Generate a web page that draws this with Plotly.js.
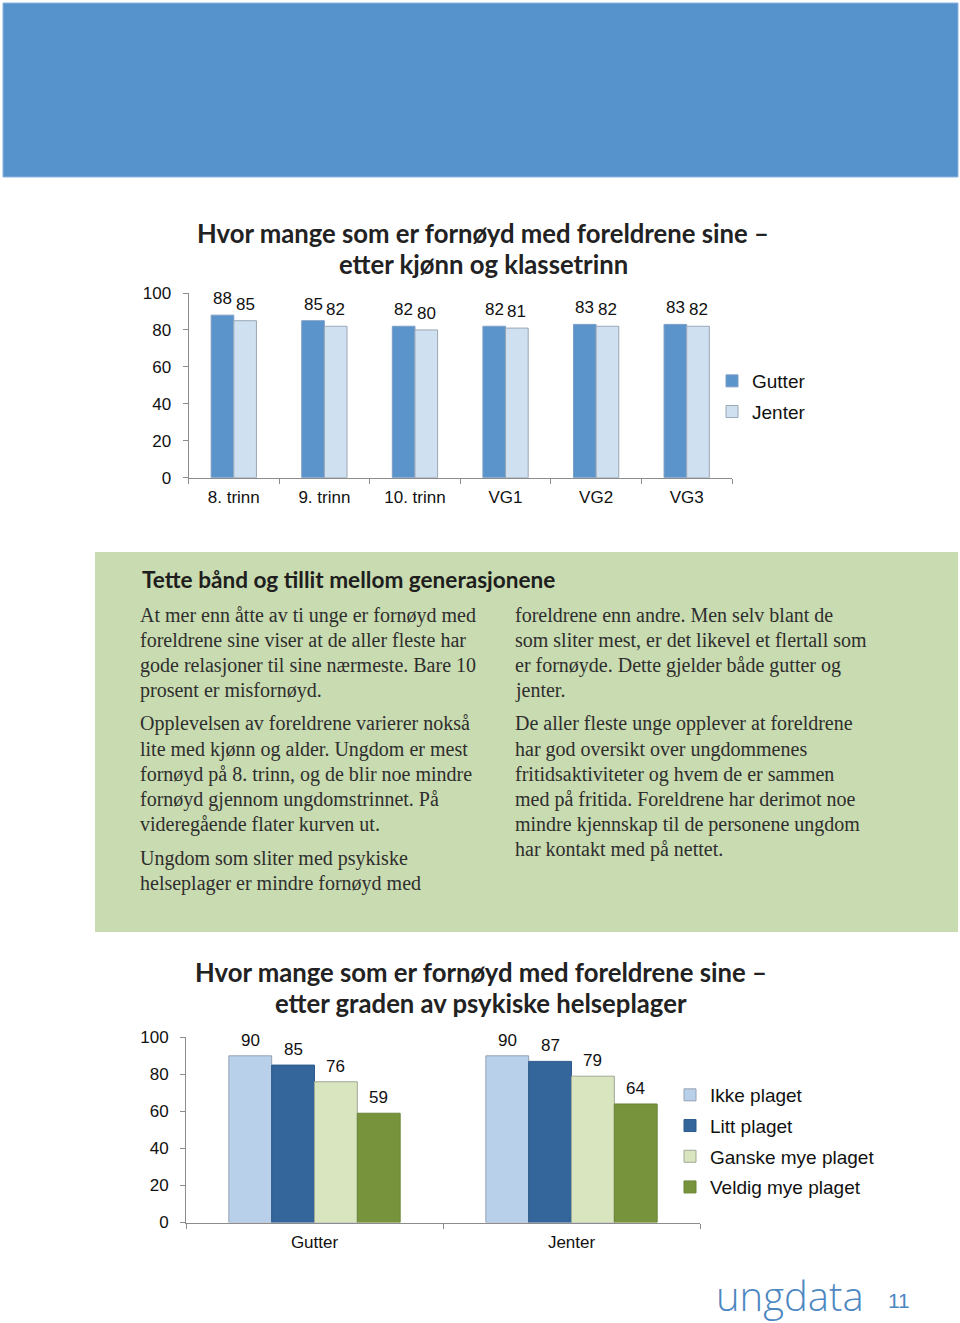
<!DOCTYPE html>
<html>
<head>
<meta charset="utf-8">
<script src="https://cdn.plot.ly/plotly-3.0.1.min.js"></script>
<style>
html,body{margin:0;padding:0;background:#fff;}
#page{width:960px;height:1323px;}
</style>
</head>
<body>
<div id="page"></div>
<script>
// ---------- DATA ----------
const grades = ["8. trinn", "9. trinn", "10. trinn", "VG1", "VG2", "VG3"];
const gutterByGrade = [88, 85, 82, 82, 83, 83];
const jenterByGrade = [85, 82, 80, 81, 82, 82];

const genders = ["Gutter", "Jenter"];
const healthGroups = ["Ikke plaget", "Litt plaget", "Ganske mye plaget", "Veldig mye plaget"];
const ikkePlaget = [90, 90];
const littPlaget = [85, 87];
const ganskeMyePlaget = [76, 79];
const veldigMyePlaget = [59, 64];

const yTicks1 = [0, 20, 40, 60, 80, 100];
const yTicks2 = [0, 20, 40, 60, 80, 100];

const title1 = ["Hvor mange som er fornøyd med foreldrene sine –", "etter kjønn og klassetrinn"];
const title2 = ["Hvor mange som er fornøyd med foreldrene sine –", "etter graden av psykiske helseplager"];
const boxHeading = "Tette bånd og tillit mellom generasjonene";
const leftParas = [
  ["At mer enn åtte av ti unge er fornøyd med",
   "foreldrene sine viser at de aller fleste har",
   "gode relasjoner til sine nærmeste. Bare 10",
   "prosent er misfornøyd."],
  ["Opplevelsen av foreldrene varierer nokså",
   "lite med kjønn og alder. Ungdom er mest",
   "fornøyd på 8. trinn, og de blir noe mindre",
   "fornøyd gjennom ungdomstrinnet. På",
   "videregående flater kurven ut."],
  ["Ungdom som sliter med psykiske",
   "helseplager er mindre fornøyd med"]
];
const rightParas = [
  ["foreldrene enn andre. Men selv blant de",
   "som sliter mest, er det likevel et flertall som",
   "er fornøyde. Dette gjelder både gutter og",
   "jenter."],
  ["De aller fleste unge opplever at foreldrene",
   "har god oversikt over ungdommenes",
   "fritidsaktiviteter og hvem de er sammen",
   "med på fritida. Foreldrene har derimot noe",
   "mindre kjennskap til de personene ungdom",
   "har kontakt med på nettet."]
];
const logoText = "ungdata";
const pageNumber = "11";

// ---------- HELPERS ----------
const W = 960, H = 1323;
const X = p => p / W;
const Y = p => 1 - p / H;
const SANS = "Liberation Sans, Arial, sans-serif";
const HEAD = "Lato, Open Sans, sans-serif";
const SERIF = "Liberation Serif, DejaVu Serif, serif";

function barTrace(x, y, name, fill, line, xa, ya, legend, width, offset, group) {
  return {
    type: "bar", x: x, y: y, name: name, xaxis: xa, yaxis: ya, legend: legend,
    legendgroup: group,
    width: width, offset: offset,
    marker: {color: fill, line: {color: line, width: 1}},
    hoverinfo: "skip"
  };
}

const traces = [
  barTrace(grades, gutterByGrade, "Gutter", "#5b93cb", "#7d9ec4", "x", "y", "legend", 0.25, -0.25, "g1"),
  barTrace(grades, jenterByGrade, "Jenter", "#cfe0f1", "#9aa6b4", "x", "y", "legend", 0.25, 0, "g2"),
  barTrace(genders, ikkePlaget, healthGroups[0], "#b8d0ea", "#95a3b3", "x2", "y2", "legend2", 1/6, -1/3, "h1"),
  barTrace(genders, littPlaget, healthGroups[1], "#35669b", "#2d5a8a", "x2", "y2", "legend2", 1/6, -1/6, "h2"),
  barTrace(genders, ganskeMyePlaget, healthGroups[2], "#d8e5be", "#a0a896", "x2", "y2", "legend2", 1/6, 0, "h3"),
  barTrace(genders, veldigMyePlaget, healthGroups[3], "#77933c", "#6b8535", "x2", "y2", "legend2", 1/6, 1/6, "h4")
];

function xAxis(domain, anchor) {
  return {
    domain: domain, anchor: anchor, type: "category", tickson: "boundaries",
    ticks: "outside", ticklen: 5, tickcolor: "#8c8c8c", showline: true, linecolor: "#8c8c8c",
    linewidth: 1, showgrid: false, zeroline: false, fixedrange: true, ticklabelstandoff: 4,
    tickfont: {family: SANS, size: 17, color: "#111"}
  };
}
function yAxis(domain, anchor, tv) {
  return {
    domain: domain, anchor: anchor, range: [0, 100], tickvals: tv, ticktext: tv.map(String),
    ticks: "outside", ticklen: 5, tickcolor: "#8c8c8c", showline: true, linecolor: "#8c8c8c",
    linewidth: 1, showgrid: false, zeroline: false, fixedrange: true, ticklabelstandoff: 8,
    tickfont: {family: SANS, size: 17, color: "#111"}
  };
}

const annotations = [];
// value labels above bars, placed through the axes
function addValueLabels(tr, xa, ya, shift) {
  tr.y.forEach((v, i) => {
    annotations.push({
      text: String(v), x: i + tr.offset + tr.width / 2, y: v, xref: xa, yref: ya,
      showarrow: false, xanchor: "center", yanchor: "bottom", yshift: shift,
      font: {family: SANS, size: 17, color: "#111"}
    });
  });
}
traces.slice(0, 2).forEach(t => addValueLabels(t, "x", "y", 5));
traces.slice(2).forEach(t => addValueLabels(t, "x2", "y2", 4));

function addText(text, x, y, opts) {
  annotations.push(Object.assign({
    text: text, x: X(x), y: Y(y), xref: "paper", yref: "paper",
    showarrow: false, xanchor: "left", yanchor: "middle"
  }, opts));
}
title1.forEach((t, i) => addText(t, 483, 233 + i * 31, {xanchor: "center",
  font: {family: HEAD, size: 25.7, weight: 700, color: "#222"}}));
title2.forEach((t, i) => addText(t, 481, 972 + i * 31, {xanchor: "center",
  font: {family: HEAD, size: 25.7, weight: 700, color: "#222"}}));
addText(boxHeading, 140, 579, {font: {family: HEAD, size: 22.6, weight: 700, color: "#1e1e1e"}});

function addColumn(paras, x) {
  let y = 615;
  paras.forEach(p => {
    p.forEach(line => { addText(line, x, y, {font: {family: SERIF, size: 20, color: "#2e2e2e"}}); y += 25; });
    y += 9;
  });
}
addColumn(leftParas, 138);
addColumn(rightParas, 513);
addText(logoText, 714, 1295, {font: {family: "Open Sans, sans-serif", size: 40, weight: 300, color: "#4d87c1"}});
addText(pageNumber, 886, 1300, {font: {family: SANS, size: 21, color: "#4d87c1"}});

const shapes = [
  {type: "rect", xref: "paper", yref: "paper", x0: X(3), x1: X(958), y0: Y(177), y1: Y(3),
   fillcolor: "#5692cc", line: {color: "#8db4dc", width: 1}, layer: "below"},
  {type: "rect", xref: "paper", yref: "paper", x0: X(95), x1: X(958), y0: Y(932), y1: Y(552),
   fillcolor: "#c9dbb0", line: {width: 0}, layer: "below"}
];

const layout = {
  width: W, height: H, margin: {l: 0, r: 0, t: 0, b: 0},
  paper_bgcolor: "#ffffff", plot_bgcolor: "rgba(0,0,0,0)",
  barmode: "group",
  showlegend: true,
  xaxis: xAxis([X(188.5), X(732)], "y"),
  yaxis: yAxis([Y(477.7), Y(293)], "x", yTicks1),
  xaxis2: xAxis([X(186), X(700)], "y2"),
  yaxis2: yAxis([Y(1222.5), Y(1037.3)], "x2", yTicks2),
  legend: {x: X(712), y: Y(362), xanchor: "left", yanchor: "top", bgcolor: "rgba(0,0,0,0)",
    traceorder: "grouped", tracegroupgap: 3, font: {family: SANS, size: 19, color: "#111"}},
  legend2: {x: X(670), y: Y(1076), xanchor: "left", yanchor: "top", bgcolor: "rgba(0,0,0,0)",
    traceorder: "grouped", tracegroupgap: 3, font: {family: SANS, size: 19, color: "#111"}},
  annotations: annotations,
  shapes: shapes
};

Plotly.newPlot("page", traces, layout, {staticPlot: true, displayModeBar: false});
</script>
</body>
</html>
